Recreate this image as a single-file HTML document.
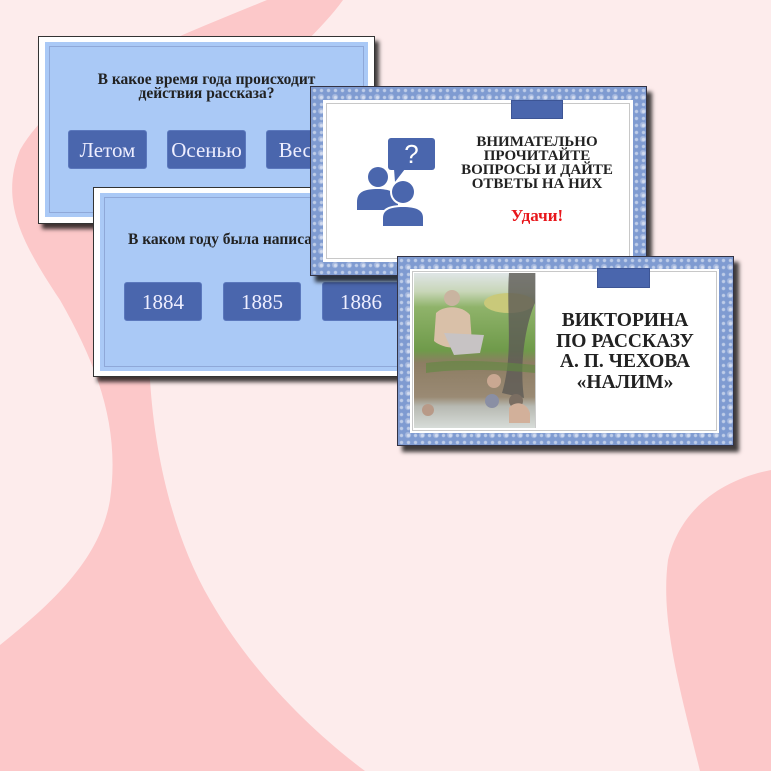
<!DOCTYPE html>
<html><head><meta charset="utf-8">
<style>
*{margin:0;padding:0;box-sizing:border-box}
body{width:771px;height:771px;overflow:hidden;background:#fdecec;position:relative;font-family:"Liberation Serif","DejaVu Serif",serif}
.abs{position:absolute}
.s12{background:#fff;border:1px solid #333;box-shadow:4px 5px 4px rgba(0,0,0,.75)}
.blue{position:absolute;background:#aac9f6}
.line{position:absolute;border:1px solid #8fa8d8}
.btn{position:absolute;background:#4a66ad;border-radius:3px;color:#eef;font-size:21px;text-align:center;line-height:38px;border:1px solid #5b78bd}
.q{position:absolute;font-weight:bold;color:#222;font-size:15.5px;text-align:center;line-height:14px}
.pat{border:1px solid #334;box-shadow:5px 6px 4px rgba(0,0,0,.75);
background-color:#7f9bd1;
background-image:radial-gradient(circle at 50% 50%,rgba(255,255,255,.5) 1.2px,transparent 2.2px),radial-gradient(circle at 50% 50%,rgba(255,255,255,.3) 2.5px,transparent 3.5px);
background-size:7px 7px,14px 14px;background-position:0 0,3px 3px}
.white{position:absolute;background:#fff}
.gl{position:absolute;border:1px solid #c8c8c8}
.tab{position:absolute;background:#4a66ad;border:1px solid #3d5595}
</style></head><body>
<svg class="abs" style="left:0;top:0" width="771" height="771">
<path fill="#fcc8c9" d="M267,0 L343,0 C300,60 200,120 170,220 C140,300 150,380 150,380 C155,460 175,540 210,600 C250,670 310,730 365,771 L0,771 L0,645 C50,605 100,560 110,500 C120,430 100,370 60,300 C20,240 0,200 20,150 C60,80 170,40 267,0 Z"/>
<path fill="#fcc8c9" d="M771,470 C720,480 680,510 668,560 C660,620 680,690 700,771 L771,771 Z"/>
</svg>

<div class="abs s12" style="left:38px;top:36px;width:337px;height:188px"></div>
<div class="blue" style="left:45px;top:42px;width:323px;height:175px"></div>
<div class="line" style="left:49px;top:46px;width:315px;height:167px"></div>
<div class="q" style="left:45px;top:73px;width:323px">В какое время года происходит<br>действия рассказа?</div>
<div class="btn" style="left:68px;top:130px;width:79px;height:39px">Летом</div>
<div class="btn" style="left:167px;top:130px;width:79px;height:39px">Осенью</div>
<div class="btn" style="left:266px;top:130px;width:79px;height:39px">Весна</div>

<div class="abs s12" style="left:93px;top:187px;width:340px;height:190px"></div>
<div class="blue" style="left:100px;top:193px;width:328px;height:178px"></div>
<div class="line" style="left:104px;top:197px;width:320px;height:170px"></div>
<div class="q" style="left:128px;top:233px;text-align:left;white-space:nowrap">В каком году была написан</div>
<div class="btn" style="left:124px;top:282px;width:78px;height:39px">1884</div>
<div class="btn" style="left:223px;top:282px;width:78px;height:39px">1885</div>
<div class="btn" style="left:322px;top:282px;width:78px;height:39px">1886</div>

<div class="abs pat" style="left:310px;top:86px;width:337px;height:190px"></div>
<div class="white" style="left:323px;top:100px;width:310px;height:162px"></div>
<div class="gl" style="left:326px;top:103px;width:304px;height:156px"></div>
<div class="tab" style="left:511px;top:100px;width:52px;height:19px"></div>
<svg class="abs" style="left:350px;top:132px" width="90" height="100">
<rect x="38" y="6" width="47" height="32" rx="3" fill="#4a66ad"/>
<path d="M44,37 L45,50 L55,37Z" fill="#4a66ad"/>
<text x="61.5" y="31" font-family="Liberation Sans,sans-serif" font-size="26" fill="#fff" text-anchor="middle">?</text>
<circle cx="28" cy="45" r="10" fill="#4a66ad"/>
<path d="M7,78 L7,70 C7,60 14,57 28,57 C42,57 48,62 48,70 L48,78Z" fill="#4a66ad"/>
<circle cx="53" cy="60" r="13" fill="#fff"/>
<circle cx="53" cy="60" r="11" fill="#4a66ad"/>
<path d="M31,94 L31,86 C31,76 40,73 53,73 C66,73 74,77 74,86 L74,94Z" fill="#fff"/>
<path d="M33,94 L33,86 C33,78 40,75 53,75 C66,75 73,78 73,86 L73,94Z" fill="#4a66ad"/>
</svg>
<div class="q" style="left:452px;top:135px;width:170px;font-size:15px">ВНИМАТЕЛЬНО<br>ПРОЧИТАЙТЕ<br>ВОПРОСЫ И ДАЙТЕ<br>ОТВЕТЫ НА НИХ</div>
<div class="q" style="left:452px;top:209px;width:170px;font-size:17px;color:#e8161b">Удачи!</div>

<div class="abs pat" style="left:397px;top:256px;width:337px;height:190px"></div>
<div class="white" style="left:410px;top:269px;width:309px;height:164px"></div>
<div class="gl" style="left:412px;top:271px;width:305px;height:160px"></div>
<svg class="abs" style="left:414px;top:273px" width="121" height="155">
<defs><linearGradient id="g" x1="0" y1="0" x2="0" y2="1">
<stop offset="0" stop-color="#dfe5e6"/><stop offset=".12" stop-color="#c8d6b8"/><stop offset=".22" stop-color="#8fb36a"/><stop offset=".5" stop-color="#6f9a4a"/><stop offset=".58" stop-color="#8d7d63"/><stop offset=".8" stop-color="#9a8a74"/><stop offset=".86" stop-color="#b7b9b2"/><stop offset="1" stop-color="#d7dcd8"/></linearGradient></defs>
<rect width="121" height="155" fill="url(#g)"/>
<ellipse cx="95" cy="30" rx="25" ry="10" fill="#c9c97a"/>
<path d="M95,0 C92,40 100,80 88,120 L110,125 C105,90 112,50 121,30 L121,0Z" fill="#5d5a55" opacity=".8"/>
<circle cx="38" cy="25" r="8" fill="#c9b4a0"/>
<path d="M22,40 C30,32 48,32 56,42 L58,70 C45,78 28,75 20,68Z" fill="#d9c0a8"/>
<path d="M30,60 L70,62 L66,80 L40,82Z" fill="#c7c3c4"/>
<path d="M12,90 C40,86 80,88 121,92 L121,100 C80,96 40,96 12,100Z" fill="#5f8a3f" opacity=".6"/>
<circle cx="80" cy="108" r="7" fill="#c9a892"/>
<circle cx="14" cy="137" r="6" fill="#b89a88"/>
<circle cx="78" cy="128" r="7" fill="#8a8fa4"/>
<circle cx="102" cy="128" r="7" fill="#7b6e62"/>
<path d="M95,135 C100,128 112,128 116,140 L116,150 L95,150Z" fill="#d2b09a"/>
</svg>
<div class="white" style="left:535px;top:273px;width:1px;height:155px;background:#ccc"></div>
<div class="tab" style="left:597px;top:268px;width:53px;height:20px"></div>
<div class="q" style="left:540px;top:311px;width:170px;font-size:19.5px;line-height:20.5px">ВИКТОРИНА<br>ПО РАССКАЗУ<br>А. П. ЧЕХОВА<br>«НАЛИМ»</div>
</body></html>
